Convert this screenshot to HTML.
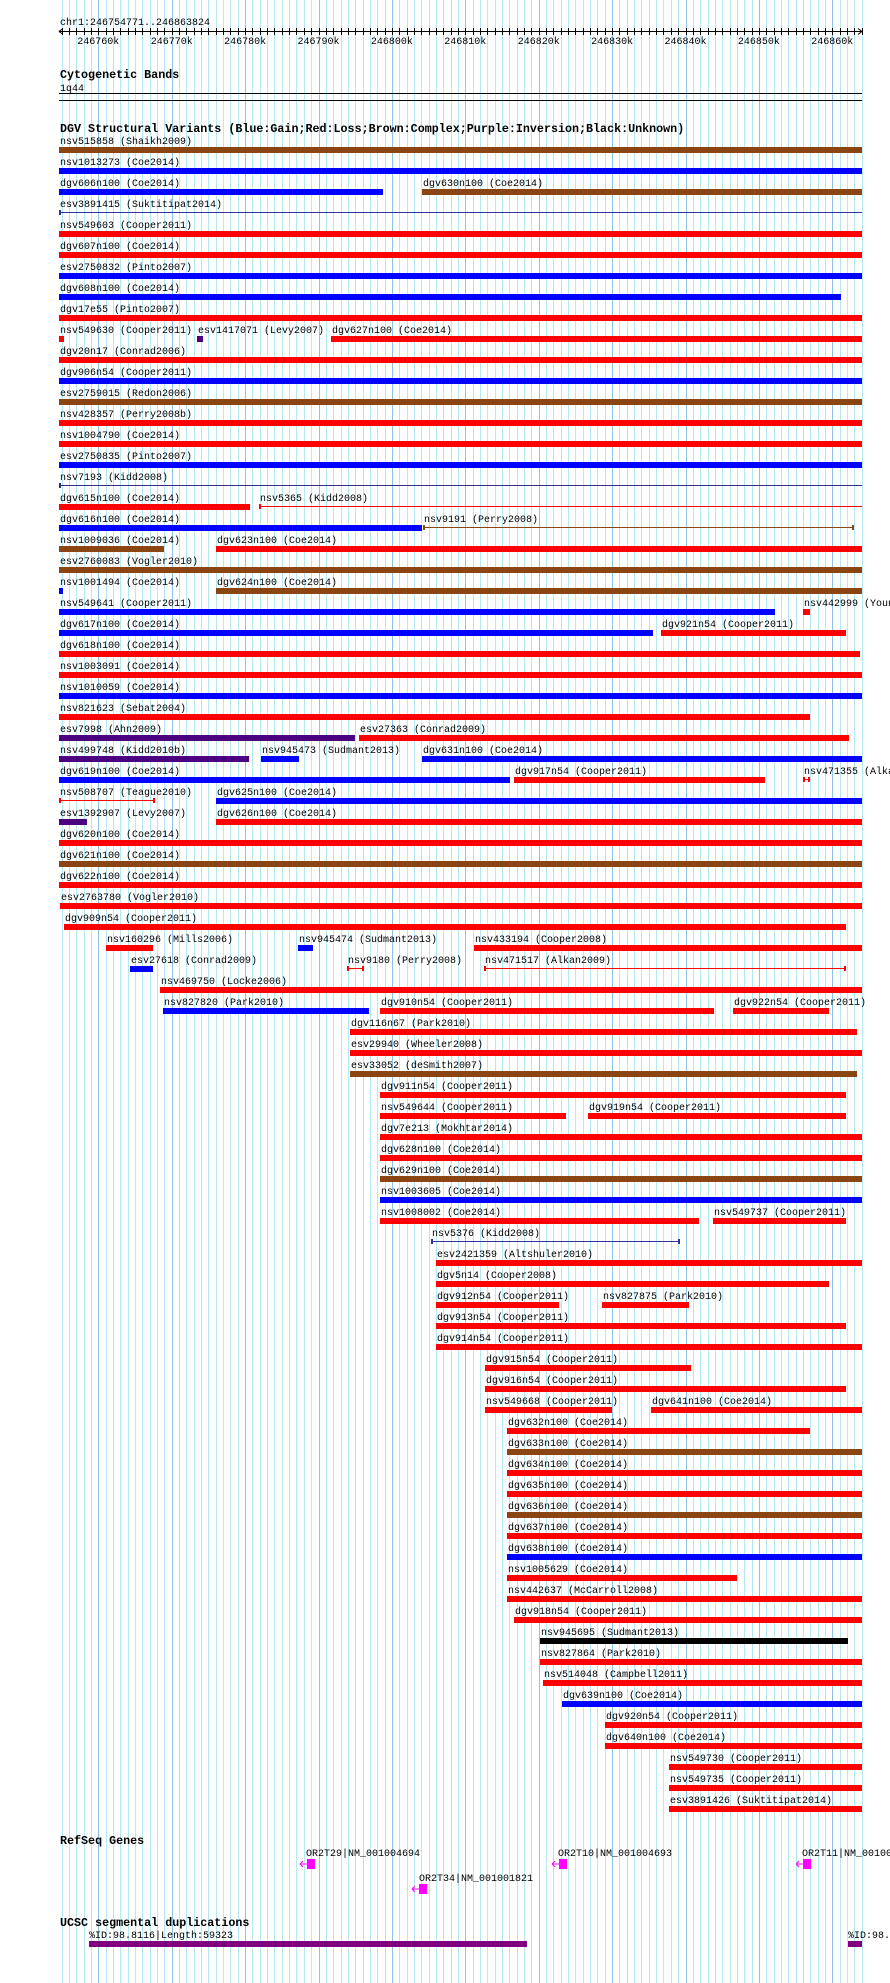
<!DOCTYPE html>
<html><head><meta charset="utf-8">
<style>
html,body{margin:0;padding:0;background:#fff;width:890px;height:1983px;overflow:hidden}
svg{display:block}
text{font-family:"Liberation Mono",monospace;font-size:10px;fill:#000}
.b{font-weight:bold;font-size:11.7px}
</style></head><body>
<svg id="s" width="890" height="1983" xmlns="http://www.w3.org/2000/svg">
<g id="grid"></g>
<g id="ruler" stroke="#000" stroke-width="1"></g>
<text x="60" y="25">chr1:246754771..246863824</text>
<text x="60" y="78" class="b">Cytogenetic Bands</text>
<text x="60" y="91">1q44</text>
<line x1="59" y1="93.5" x2="862" y2="93.5" stroke="#000"/>
<line x1="59" y1="100.5" x2="862" y2="100.5" stroke="#000"/>
<text x="60" y="132" class="b">DGV Structural Variants (Blue:Gain;Red:Loss;Brown:Complex;Purple:Inversion;Black:Unknown)</text>
<g id="rows"></g>
<text x="60" y="1844" class="b">RefSeq Genes</text>
<text x="306" y="1856">OR2T29|NM_001004694</text>
<text x="558" y="1856">OR2T10|NM_001004693</text>
<text x="802" y="1856">OR2T11|NM_001004692</text>
<text x="419" y="1881">OR2T34|NM_001001821</text>
<g fill="#ff00ff" stroke="#ff00ff">
<rect x="307" y="1859" width="8" height="10" stroke="none"/>
<path d="M300 1864H307M300 1864l3 -3M300 1864l3 3" fill="none"/>
<rect x="559" y="1859" width="8" height="10" stroke="none"/>
<path d="M552 1864H559M552 1864l3 -3M552 1864l3 3" fill="none"/>
<rect x="803" y="1859" width="8" height="10" stroke="none"/>
<path d="M796 1864H803M796 1864l3 -3M796 1864l3 3" fill="none"/>
<rect x="419" y="1884" width="8" height="10" stroke="none"/>
<path d="M412 1889H419M412 1889l3 -3M412 1889l3 3" fill="none"/>
</g>
<text x="60" y="1926" class="b">UCSC segmental duplications</text>
<text x="89" y="1938">%ID:98.8116|Length:59323</text>
<text x="848" y="1938">%ID:98.8116</text>
<rect x="89" y="1941" width="438" height="6" fill="#800080"/>
<rect x="848" y="1941" width="14" height="6" fill="#800080"/>
</svg>
<script>
var NS="http://www.w3.org/2000/svg";
function el(p,t,a,txt){var e=document.createElementNS(NS,t);for(var k in a)e.setAttribute(k,a[k]);if(txt!=null)e.textContent=txt;p.appendChild(e);return e;}
var grid=document.getElementById('grid'),ruler=document.getElementById('ruler'),rows=document.getElementById('rows');
function X(k){return 98.3+k*7.34;}
for(var k=-5;k<=104;k++){var x=Math.round(X(k))+0.5;if(x<59||x>863)continue;
 el(grid,'line',{x1:x,y1:0,x2:x,y2:1983,stroke:(k%10==0)?'#8cc4e6':'#b4e8f2','stroke-width':1});
 el(ruler,'line',{x1:x,y1:28,x2:x,y2:35});}
el(ruler,'line',{x1:59,y1:31.5,x2:862,y2:31.5});
el(ruler,'path',{d:'M59 31.5l4 -3M59 31.5l4 3M862 31.5l-4 -3M862 31.5l-4 3',fill:'none'});
var labs=['246760k','246770k','246780k','246790k','246800k','246810k','246820k','246830k','246840k','246850k','246860k'];
for(var i=0;i<labs.length;i++){el(document.getElementById('s'),'text',{x:X(i*10),y:44,'text-anchor':'middle'},labs[i]);}
function F(d){return d>=681?862:59+(d-47)*1.2647;}
var C={b:'#0000ff',r:'#ff0000',n:'#8b4513',p:'#4b0082',k:'#000000',L:'#ff0000',B:'#3030a0',N:'#8b4513',P:'#3a2a80'};
var D=[
[["nsv515858 (Shaikh2009)",47,681,'n']],
[["nsv1013273 (Coe2014)",47,681,'b']],
[["dgv606n100 (Coe2014)",47,303,'b'],["dgv630n100 (Coe2014)",334,681,'n']],
[["esv3891415 (Suktitipat2014)",47,681,'B']],
[["nsv549603 (Cooper2011)",47,681,'r']],
[["dgv607n100 (Coe2014)",47,681,'r']],
[["esv2750832 (Pinto2007)",47,681,'b']],
[["dgv608n100 (Coe2014)",47,665,'b']],
[["dgv17e55 (Pinto2007)",47,681,'r']],
[["nsv549630 (Cooper2011)",47,51,'r'],["esv1417071 (Levy2007)",156,161,'p'],["dgv627n100 (Coe2014)",262,681,'r']],
[["dgv20n17 (Conrad2006)",47,681,'r']],
[["dgv906n54 (Cooper2011)",47,681,'b']],
[["esv2759015 (Redon2006)",47,681,'n']],
[["nsv428357 (Perry2008b)",47,681,'r']],
[["nsv1004790 (Coe2014)",47,681,'r']],
[["esv2750835 (Pinto2007)",47,681,'b']],
[["nsv7193 (Kidd2008)",47,681,'P']],
[["dgv615n100 (Coe2014)",47,198,'r'],["nsv5365 (Kidd2008)",205,681,'L']],
[["dgv616n100 (Coe2014)",47,334,'b'],["nsv9191 (Perry2008)",335,676,'N']],
[["nsv1009036 (Coe2014)",47,130,'n'],["dgv623n100 (Coe2014)",171,681,'r']],
[["esv2760083 (Vogler2010)",47,681,'n']],
[["nsv1001494 (Coe2014)",47,50,'b'],["dgv624n100 (Coe2014)",171,681,'n']],
[["nsv549641 (Cooper2011)",47,613,'b'],["nsv442999 (Young2008)",635,641,'r']],
[["dgv617n100 (Coe2014)",47,517,'b'],["dgv921n54 (Cooper2011)",523,669,'r']],
[["dgv618n100 (Coe2014)",47,680,'r']],
[["nsv1003091 (Coe2014)",47,681,'r']],
[["nsv1010059 (Coe2014)",47,681,'b']],
[["nsv821623 (Sebat2004)",47,641,'r']],
[["esv7998 (Ahn2009)",47,281,'p'],["esv27363 (Conrad2009)",284,672,'r']],
[["nsv499748 (Kidd2010b)",47,197,'p'],["nsv945473 (Sudmant2013)",207,237,'b'],["dgv631n100 (Coe2014)",334,681,'b']],
[["dgv619n100 (Coe2014)",47,404,'b'],["dgv917n54 (Cooper2011)",407,605,'r'],["nsv471355 (Alkan2009)",635,641,'L']],
[["nsv508707 (Teague2010)",47,123,'L'],["dgv625n100 (Coe2014)",171,681,'b']],
[["esv1392907 (Levy2007)",47,69,'p'],["dgv626n100 (Coe2014)",171,681,'r']],
[["dgv620n100 (Coe2014)",47,681,'r']],
[["dgv621n100 (Coe2014)",47,681,'n']],
[["dgv622n100 (Coe2014)",47,681,'r']],
[["esv2763780 (Vogler2010)",48,681,'r']],
[["dgv909n54 (Cooper2011)",51,669,'r']],
[["nsv160296 (Mills2006)",84,121,'r'],["nsv945474 (Sudmant2013)",236,248,'b'],["nsv433194 (Cooper2008)",375,681,'r']],
[["esv27618 (Conrad2009)",103,121,'b'],["nsv9180 (Perry2008)",275,288,'L'],["nsv471517 (Alkan2009)",383,669,'L']],
[["nsv469750 (Locke2006)",127,681,'r']],
[["nsv827820 (Park2010)",129,292,'b'],["dgv910n54 (Cooper2011)",301,565,'r'],["dgv922n54 (Cooper2011)",580,656,'r']],
[["dgv116n67 (Park2010)",277,678,'r']],
[["esv29940 (Wheeler2008)",277,681,'r']],
[["esv33052 (deSmith2007)",277,678,'n']],
[["dgv911n54 (Cooper2011)",301,669,'r']],
[["nsv549644 (Cooper2011)",301,448,'r'],["dgv919n54 (Cooper2011)",465,669,'r']],
[["dgv7e213 (Mokhtar2014)",301,681,'r']],
[["dgv628n100 (Coe2014)",301,681,'r']],
[["dgv629n100 (Coe2014)",301,681,'n']],
[["nsv1003605 (Coe2014)",301,681,'b']],
[["nsv1008002 (Coe2014)",301,553,'r'],["nsv549737 (Cooper2011)",564,669,'r']],
[["nsv5376 (Kidd2008)",341,538,'B']],
[["esv2421359 (Altshuler2010)",345,681,'r']],
[["dgv5n14 (Cooper2008)",345,656,'r']],
[["dgv912n54 (Cooper2011)",345,442,'r'],["nsv827875 (Park2010)",476,545,'r']],
[["dgv913n54 (Cooper2011)",345,669,'r']],
[["dgv914n54 (Cooper2011)",345,681,'r']],
[["dgv915n54 (Cooper2011)",384,547,'r']],
[["dgv916n54 (Cooper2011)",384,669,'r']],
[["nsv549668 (Cooper2011)",384,484,'r'],["dgv641n100 (Coe2014)",515,681,'r']],
[["dgv632n100 (Coe2014)",401,641,'r']],
[["dgv633n100 (Coe2014)",401,681,'n']],
[["dgv634n100 (Coe2014)",401,681,'r']],
[["dgv635n100 (Coe2014)",401,681,'r']],
[["dgv636n100 (Coe2014)",401,681,'n']],
[["dgv637n100 (Coe2014)",401,681,'r']],
[["dgv638n100 (Coe2014)",401,681,'b']],
[["nsv1005629 (Coe2014)",401,583,'r']],
[["nsv442637 (McCarroll2008)",401,681,'r']],
[["dgv918n54 (Cooper2011)",407,681,'r']],
[["nsv945695 (Sudmant2013)",427,671,'k']],
[["nsv827864 (Park2010)",427,681,'r']],
[["nsv514048 (Campbell2011)",430,681,'r']],
[["dgv639n100 (Coe2014)",445,681,'b']],
[["dgv920n54 (Cooper2011)",479,681,'r']],
[["dgv640n100 (Coe2014)",479,681,'r']],
[["nsv549730 (Cooper2011)",529,681,'r']],
[["nsv549735 (Cooper2011)",529,681,'r']],
[["esv3891426 (Suktitipat2014)",529,681,'r']]
];
for(var r=0;r<D.length;r++){var y=147+r*21;
 for(var j=0;j<D[r].length;j++){var s=D[r][j],x1=F(s[1]),x2=F(s[2]),t=s[3];if(x2-x1<4)x2=x1+4;x1=Math.round(x1);x2=Math.round(x2);
  el(rows,'text',{x:x1+1,y:y-3},s[0]);
  if(t==t.toUpperCase()){
   el(rows,'rect',{x:x1,y:y+2,width:x2-x1,height:1,fill:C[t]});
   el(rows,'rect',{x:x1,y:y,width:2,height:5,fill:C[t]});
   if(x2<861)el(rows,'rect',{x:x2-2,y:y,width:2,height:5,fill:C[t]});
  } else el(rows,'rect',{x:x1,y:y,width:x2-x1,height:6,fill:C[t]});
 }}
</script>
</body></html>
